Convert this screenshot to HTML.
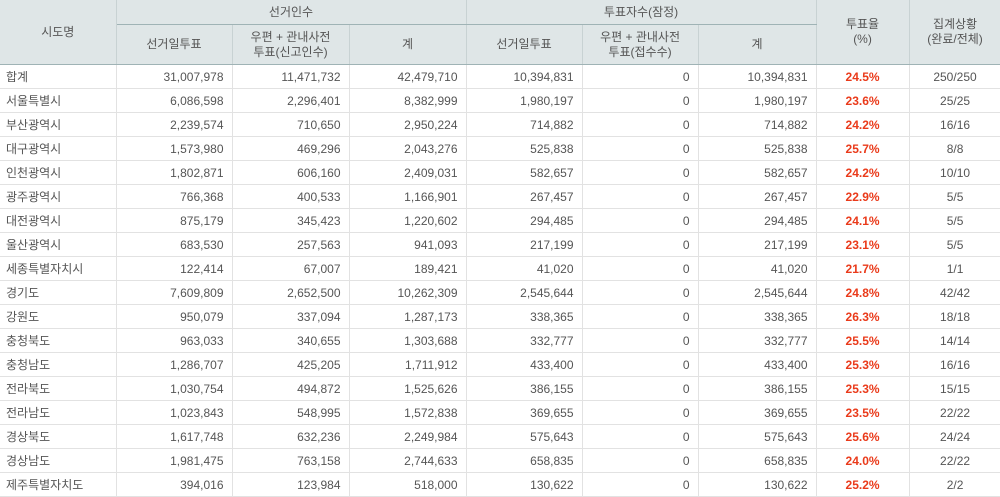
<!DOCTYPE html>
<html><head><meta charset="utf-8"><style>
html,body{margin:0;padding:0;background:#fff;width:1000px;height:497px;overflow:hidden}
table{border-collapse:collapse;table-layout:fixed;width:1001px;font-family:"Liberation Sans","Noto Sans CJK KR",sans-serif;font-size:12px;color:#555}
th{background:#dfe6e7;font-weight:normal;color:#555;border-right:1px solid #c8d2d3;border-bottom:1px solid #9fb3b5;padding:0;line-height:15px}
td{height:23px;border-bottom:1px solid #e2e2e2;border-right:1px solid #e2e2e2;padding:0 8px;text-align:right;white-space:nowrap}
td:first-child{text-align:left;padding-left:6px}
td.r{color:#ea3a1a;font-weight:bold;text-align:center}
td.c{text-align:center}
tr.h1 th{height:24px}
tr.h2 th{height:39px}
</style></head><body>
<table>
<colgroup><col style="width:116px"><col style="width:116px"><col style="width:117px"><col style="width:117px"><col style="width:116px"><col style="width:116px"><col style="width:118px"><col style="width:93px"><col style="width:92px"></colgroup>
<tr class="h1"><th rowspan="2">시도명</th><th colspan="3">선거인수</th><th colspan="3">투표자수(잠정)</th><th rowspan="2">투표율<br>(%)</th><th rowspan="2">집계상황<br>(완료/전체)</th></tr>
<tr class="h2"><th>선거일투표</th><th>우편 + 관내사전<br>투표(신고인수)</th><th>계</th><th>선거일투표</th><th>우편 + 관내사전<br>투표(접수수)</th><th>계</th></tr>
<tr><td>합계</td><td>31,007,978</td><td>11,471,732</td><td>42,479,710</td><td>10,394,831</td><td>0</td><td>10,394,831</td><td class="r">24.5%</td><td class="c">250/250</td></tr>
<tr><td>서울특별시</td><td>6,086,598</td><td>2,296,401</td><td>8,382,999</td><td>1,980,197</td><td>0</td><td>1,980,197</td><td class="r">23.6%</td><td class="c">25/25</td></tr>
<tr><td>부산광역시</td><td>2,239,574</td><td>710,650</td><td>2,950,224</td><td>714,882</td><td>0</td><td>714,882</td><td class="r">24.2%</td><td class="c">16/16</td></tr>
<tr><td>대구광역시</td><td>1,573,980</td><td>469,296</td><td>2,043,276</td><td>525,838</td><td>0</td><td>525,838</td><td class="r">25.7%</td><td class="c">8/8</td></tr>
<tr><td>인천광역시</td><td>1,802,871</td><td>606,160</td><td>2,409,031</td><td>582,657</td><td>0</td><td>582,657</td><td class="r">24.2%</td><td class="c">10/10</td></tr>
<tr><td>광주광역시</td><td>766,368</td><td>400,533</td><td>1,166,901</td><td>267,457</td><td>0</td><td>267,457</td><td class="r">22.9%</td><td class="c">5/5</td></tr>
<tr><td>대전광역시</td><td>875,179</td><td>345,423</td><td>1,220,602</td><td>294,485</td><td>0</td><td>294,485</td><td class="r">24.1%</td><td class="c">5/5</td></tr>
<tr><td>울산광역시</td><td>683,530</td><td>257,563</td><td>941,093</td><td>217,199</td><td>0</td><td>217,199</td><td class="r">23.1%</td><td class="c">5/5</td></tr>
<tr><td>세종특별자치시</td><td>122,414</td><td>67,007</td><td>189,421</td><td>41,020</td><td>0</td><td>41,020</td><td class="r">21.7%</td><td class="c">1/1</td></tr>
<tr><td>경기도</td><td>7,609,809</td><td>2,652,500</td><td>10,262,309</td><td>2,545,644</td><td>0</td><td>2,545,644</td><td class="r">24.8%</td><td class="c">42/42</td></tr>
<tr><td>강원도</td><td>950,079</td><td>337,094</td><td>1,287,173</td><td>338,365</td><td>0</td><td>338,365</td><td class="r">26.3%</td><td class="c">18/18</td></tr>
<tr><td>충청북도</td><td>963,033</td><td>340,655</td><td>1,303,688</td><td>332,777</td><td>0</td><td>332,777</td><td class="r">25.5%</td><td class="c">14/14</td></tr>
<tr><td>충청남도</td><td>1,286,707</td><td>425,205</td><td>1,711,912</td><td>433,400</td><td>0</td><td>433,400</td><td class="r">25.3%</td><td class="c">16/16</td></tr>
<tr><td>전라북도</td><td>1,030,754</td><td>494,872</td><td>1,525,626</td><td>386,155</td><td>0</td><td>386,155</td><td class="r">25.3%</td><td class="c">15/15</td></tr>
<tr><td>전라남도</td><td>1,023,843</td><td>548,995</td><td>1,572,838</td><td>369,655</td><td>0</td><td>369,655</td><td class="r">23.5%</td><td class="c">22/22</td></tr>
<tr><td>경상북도</td><td>1,617,748</td><td>632,236</td><td>2,249,984</td><td>575,643</td><td>0</td><td>575,643</td><td class="r">25.6%</td><td class="c">24/24</td></tr>
<tr><td>경상남도</td><td>1,981,475</td><td>763,158</td><td>2,744,633</td><td>658,835</td><td>0</td><td>658,835</td><td class="r">24.0%</td><td class="c">22/22</td></tr>
<tr><td>제주특별자치도</td><td>394,016</td><td>123,984</td><td>518,000</td><td>130,622</td><td>0</td><td>130,622</td><td class="r">25.2%</td><td class="c">2/2</td></tr>
</table>
</body></html>
